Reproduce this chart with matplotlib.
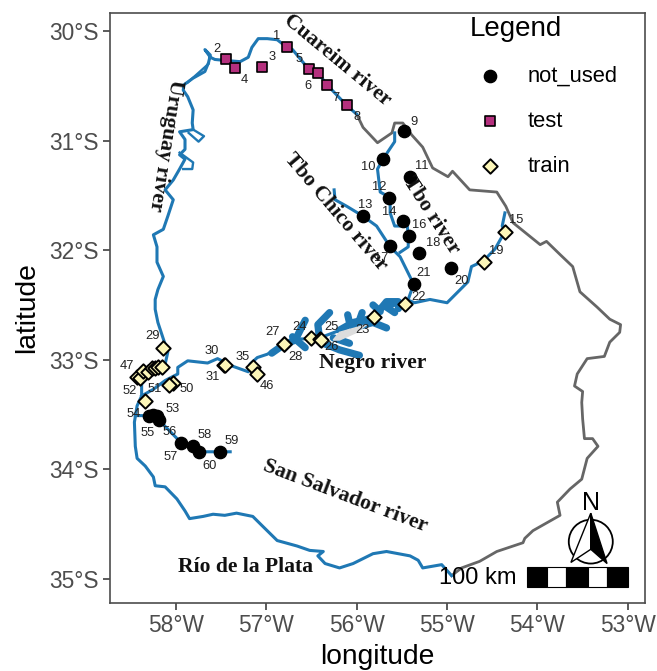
import matplotlib
matplotlib.use('Agg')
import matplotlib.pyplot as plt
from matplotlib.patches import Ellipse, Polygon, Rectangle

plt.rcParams['font.family'] = ['Liberation Sans', 'DejaVu Sans']

uruguay_lon = [-56.00, -56.11, -56.33, -56.43, -56.53, -56.71, -56.77, -56.88, -56.99, -57.09, -57.16, -57.20, -57.29,
               -57.44, -57.57, -57.62, -57.68, -57.62, -57.64, -57.68, -57.81, -57.91, -57.92, -57.87, -57.81, -57.82,
               -57.81, -57.96, -57.90, -57.90, -57.96, -57.90, -57.96, -58.03, -58.12, -58.03, -58.09, -58.14, -58.25,
               -58.21, -58.21, -58.14, -58.20, -58.23, -58.23, -58.20, -58.14, -58.09, -58.12, -58.21, -58.31, -58.38,
               -58.38, -58.43, -58.46, -58.45, -58.43, -58.34, -58.25, -58.23, -58.12, -57.99, -57.90, -57.85, -57.70,
               -57.59, -57.46, -57.33, -57.15, -57.04, -56.88, -56.66, -56.52, -56.37, -56.43, -56.35, -56.19, -56.04,
               -55.82, -55.67, -55.41, -55.32, -55.27, -55.06, -54.95]
uruguay_lat = [-30.76, -30.68, -30.49, -30.38, -30.35, -30.17, -30.15, -30.08, -30.07, -30.07, -30.15, -30.24, -30.28,
               -30.27, -30.26, -30.24, -30.17, -30.22, -30.29, -30.37, -30.43, -30.49, -30.54, -30.60, -30.72, -30.84,
               -30.90, -30.92, -30.99, -31.08, -31.13, -31.17, -31.26, -31.36, -31.45, -31.54, -31.69, -31.81, -31.86,
               -31.97, -32.11, -32.24, -32.36, -32.45, -32.54, -32.66, -32.81, -32.93, -33.04, -33.10, -33.16, -33.22,
               -33.33, -33.42, -33.57, -33.79, -33.90, -33.97, -34.07, -34.15, -34.16, -34.27, -34.38, -34.45, -34.43,
               -34.41, -34.42, -34.40, -34.43, -34.52, -34.65, -34.70, -34.74, -34.75, -34.79, -34.86, -34.90, -34.86,
               -34.77, -34.75, -34.79, -34.83, -34.90, -34.87, -34.97]

border_lon = [-54.95, -54.84, -54.64, -54.45, -54.16, -54.14, -54.05, -53.75, -53.78, -53.64, -53.51, -53.45, -53.33,
              -53.39, -53.48, -53.50, -53.51, -53.50, -53.59, -53.56, -53.45, -53.26, -53.20, -53.09, -53.08, -53.20,
              -53.34, -53.53, -53.61, -53.75, -53.90, -53.97, -54.27, -54.35, -54.45, -54.75, -54.94, -54.99, -55.16,
              -55.27, -55.39, -55.49, -55.58, -55.61, -55.77, -55.93, -56.00]
border_lat = [-34.97, -34.90, -34.84, -34.75, -34.67, -34.63, -34.56, -34.42, -34.30, -34.18, -34.09, -33.90, -33.79,
              -33.72, -33.72, -33.54, -33.39, -33.29, -33.24, -33.13, -32.99, -32.97, -32.84, -32.75, -32.68, -32.63,
              -32.52, -32.38, -32.15, -32.04, -31.92, -31.95, -31.75, -31.60, -31.47, -31.45, -31.28, -31.33, -31.25,
              -31.06, -30.95, -30.84, -30.84, -30.93, -31.02, -30.88, -30.76]

negro_lon = [-54.36, -54.39, -54.36, -54.47, -54.60, -54.73, -54.77, -55.00, -55.19, -55.36, -55.45, -55.47, -55.63,
             -55.78, -55.82, -56.15, -56.44, -56.66, -56.81, -56.99, -57.10, -57.18, -57.20, -57.37, -57.54, -57.65,
             -57.87, -57.98, -57.98, -58.12, -58.25, -58.38]
negro_lat = [-31.66, -31.78, -31.83, -31.99, -32.10, -32.15, -32.29, -32.48, -32.45, -32.48, -32.45, -32.49, -32.51,
             -32.56, -32.61, -32.72, -32.81, -32.81, -32.86, -32.95, -32.98, -33.04, -33.11, -33.06, -32.99, -33.03,
             -33.01, -33.07, -33.13, -33.19, -33.27, -33.33]

tacuarembo_lon = [-55.43, -55.37, -55.52, -55.63, -55.78, -55.93, -56.11, -56.24, -56.25]
tacuarembo_lat = [-32.45, -32.31, -32.06, -31.97, -31.78, -31.69, -31.60, -31.54, -31.45]

tbo_lon = [-55.52, -55.43, -55.43, -55.44, -55.58, -55.63, -55.63, -55.74, -55.77, -55.71, -55.58, -55.58]
tbo_lat = [-32.02, -31.97, -31.87, -31.78, -31.78, -31.66, -31.52, -31.47, -31.26, -31.17, -31.01, -30.93]

salvador_lon = [-58.45, -58.30, -58.19, -58.07, -57.94, -57.81, -57.75, -57.51, -57.40]
salvador_lat = [-33.51, -33.51, -33.55, -33.65, -33.76, -33.79, -33.84, -33.84, -33.84]

# islands / side channels of the Uruguay river
channels = [
    ([-57.87, -57.68, -57.64], [-30.47, -30.33, -30.30]),
    ([-57.81, -57.69, -57.75, -57.86], [-30.90, -30.96, -31.01, -30.93]),
    ([-57.96, -57.81, -57.82, -57.92], [-31.11, -31.20, -31.26, -31.26]),
]

# reservoir arms of the Negro river
lake_arms = [
    ([-56.94, -56.82, -56.68, -56.57], [-32.94, -32.87, -32.82, -32.64]),
    ([-56.71, -56.57], [-32.79, -32.89]),
    ([-56.41, -56.43, -56.30], [-32.82, -32.68, -32.57]),
    ([-56.37, -56.19, -55.97], [-32.85, -32.91, -32.96]),
    ([-56.26, -56.08], [-32.80, -32.85]),
    ([-56.19, -56.04, -55.82, -55.67, -55.54], [-32.73, -32.66, -32.62, -32.47, -32.47]),
    ([-56.04, -55.82, -55.67], [-32.71, -32.66, -32.71]),
    ([-56.08, -56.10], [-32.66, -32.59]),
    ([-55.97, -55.94], [-32.64, -32.57]),
    ([-55.74, -55.82], [-32.56, -32.50]),
    ([-55.67, -55.58], [-32.52, -32.57]),
    ([-55.54, -55.54], [-32.47, -32.53]),
]
lake_lon = [-56.19, -55.89, -56.00, -56.19, -56.26]
lake_lat = [-32.75, -32.68, -32.75, -32.82, -32.82]

# stations
test_no = [1, 2, 3, 4, 5, 6, 7, 8]
test_lon = [-56.77, -57.45, -57.05, -57.35, -56.53, -56.43, -56.33, -56.11]
test_lat = [-30.15, -30.26, -30.33, -30.34, -30.35, -30.38, -30.49, -30.68]

used_no = [9, 10, 11, 12, 13, 14, 16, 17, 18, 20, 21, 53, 54, 55, 56, 57, 58, 60, 59]
used_lon = [-55.48, -55.71, -55.41, -55.64, -55.93, -55.49, -55.42, -55.63, -55.31, -54.96, -55.37,
            -58.21, -58.30, -58.25, -58.19, -57.94, -57.81, -57.75, -57.51]
used_lat = [-30.91, -31.17, -31.33, -31.52, -31.69, -31.73, -31.87, -31.96, -32.03, -32.16, -32.31,
            -33.51, -33.51, -33.50, -33.55, -33.76, -33.79, -33.84, -33.84]

train_no = [15, 19, 22, 23, 24, 25, 26, 27, 28, 29, 30, 31, 35, 46, 47, 52, 36, 37, 38, 39, 40, 41, 49, 50, 51]
train_lon = [-54.36, -54.59, -55.47, -55.81, -56.51, -56.41, -56.40, -56.81, -56.80, -58.14, -57.47, -57.46, -57.15,
             -57.10, -58.43, -58.40, -58.37, -58.31, -58.27, -58.23, -58.20, -58.15, -58.03, -58.08, -58.34]
train_lat = [-31.83, -32.11, -32.49, -32.61, -32.80, -32.81, -32.82, -32.86, -32.86, -32.89, -33.05, -33.05, -33.07,
             -33.13, -33.16, -33.17, -33.10, -33.11, -33.08, -33.08, -33.07, -33.07, -33.21, -33.23, -33.38]

# label offsets in pixels from the station
label_dx = {1: -11, 2: -9, 3: 10, 4: 10, 5: -10, 6: -10, 7: 9, 8: 10, 9: 10, 10: -15, 11: 12, 12: -10, 13: 2, 14: -14,
            15: 11, 16: 10, 17: -9, 18: 14, 19: 12, 20: 11, 21: 10, 22: 14, 23: -11, 24: -11, 25: 12, 26: 11, 27: -11,
            28: 11, 29: -11, 30: -12, 31: -12, 35: -10, 46: 10, 47: -10, 52: -10, 50: 18, 51: 9, 53: 16, 54: -15,
            55: -6, 56: 11, 57: -11, 58: 12, 59: 11, 60: 11}
label_dy = {1: 11, 2: 10, 3: 10, 4: -12, 5: 10, 6: -13, 7: -13, 8: -12, 9: 9, 10: -8, 11: 11, 12: 11, 13: 11, 14: 9,
            15: 12, 16: 11, 17: -12, 18: 10, 19: 11, 20: -13, 21: 11, 22: 7, 23: -13, 24: 11, 25: 12, 26: -7, 27: 12,
            28: -13, 29: 12, 30: 14, 31: -12, 35: 10, 46: -12, 47: 11, 52: -13, 50: -4, 51: 12, 53: 7, 54: 2,
            55: -18, 56: -12, 57: -14, 58: 11, 59: 11, 60: -14}

river_names = ['Cuareim river', 'Uruguay river', 'Tbo Chico river', 'Tbo river', 'Negro river',
               'San Salvador river', 'Río de la Plata']
river_name_lon = [-56.21, -58.12, -56.23, -55.18, -55.82, -56.13, -57.23]
river_name_lat = [-30.27, -31.04, -31.65, -31.68, -33.03, -34.24, -34.89]
river_name_rot = [-39.5, -99, -49.6, -57, 0, -20.7, 0]

# scale bar and north arrow
scale_edges = [-54.12, -53.89, -53.68, -53.44, -53.23, -53.00]
scale_colors = ['black', 'white', 'black', 'white', 'black']

x_ticks = [-58, -57, -56, -55, -54, -53]
y_ticks = [-30, -31, -32, -33, -34, -35]

BLUE = '#1f78b4'
GREY = '#666666'
DARK = '#4d4d4d'

fig = plt.figure(figsize=(6.57, 6.71), dpi=100)
ax = fig.add_axes([110 / 657, 1 - 603 / 671, 535 / 657, 590 / 671])

ax.plot(border_lon, border_lat, color=GREY, lw=2.0, solid_joinstyle='round', zorder=2)
ax.fill(lake_lon, lake_lat, color='#dddddd', zorder=4)
for lon, lat in channels:
    ax.plot(lon, lat, color=BLUE, lw=1.7, zorder=3)
for lon, lat in lake_arms:
    ax.plot(lon, lat, color=BLUE, lw=5.2, solid_capstyle='round', zorder=3)
for lon, lat in [(uruguay_lon, uruguay_lat), (negro_lon, negro_lat), (tacuarembo_lon, tacuarembo_lat),
                 (tbo_lon, tbo_lat), (salvador_lon, salvador_lat)]:
    ax.plot(lon, lat, color=BLUE, lw=2.2, solid_joinstyle='round', zorder=3)

ax.scatter(used_lon, used_lat, s=78, marker='o', color='black', zorder=5, label='not_used')
ax.scatter(test_lon, test_lat, s=48, marker='s', facecolor='#b5307e', edgecolor='black', linewidth=1.2, zorder=5,
           label='test')
ax.scatter(train_lon, train_lat, s=54, marker='D', facecolor='#fcf6b8', edgecolor='black', linewidth=1.4, zorder=5,
           label='train')

for nos, lons, lats in [(test_no, test_lon, test_lat), (used_no, used_lon, used_lat), (train_no, train_lon, train_lat)]:
    for no, lon, lat in zip(nos, lons, lats):
        if no in label_dx:
            ax.annotate(str(no), (lon, lat), xytext=(label_dx[no], label_dy[no]), textcoords='offset pixels',
                        ha='center', va='center', fontsize=9.3, color='#222222', zorder=6)

for name, lon, lat, rot in zip(river_names, river_name_lon, river_name_lat, river_name_rot):
    ax.text(lon, lat, name, rotation=rot, rotation_mode='anchor', ha='center', va='center',
            family='Liberation Serif', fontweight='bold', fontsize=15.6, color='#111111', zorder=7)

# scale bar
for i in range(len(scale_colors)):
    ax.add_patch(Rectangle((scale_edges[i], -35.07), scale_edges[i + 1] - scale_edges[i], 0.18,
                           facecolor=scale_colors[i], edgecolor='black', linewidth=0.8, zorder=6))
ax.text(-54.23, -34.99, '100 km', ha='right', va='center', fontsize=17, color='black', zorder=7)

# north arrow
ax.add_patch(Ellipse((-53.41, -34.66), 0.487, 0.40, facecolor='none', edgecolor='black', linewidth=1.3, zorder=6))
ax.add_patch(Polygon([(-53.41, -34.40), (-53.63, -34.85), (-53.41, -34.73)], facecolor='white', edgecolor='black',
                     linewidth=1.0, zorder=6))
ax.add_patch(Polygon([(-53.41, -34.40), (-53.23, -34.86), (-53.41, -34.73)], facecolor='black', edgecolor='black',
                     linewidth=1.0, zorder=6))
ax.text(-53.41, -34.31, 'N', ha='center', va='center', fontsize=18, color='black', zorder=7)

ax.set_xlim(-58.73, -52.81)
ax.set_ylim(-35.22, -29.836)
ax.set_xticks(x_ticks)
ax.set_xticklabels(['%d°W' % abs(v) for v in x_ticks])
ax.set_yticks(y_ticks)
ax.set_yticklabels(['%d°S' % abs(v) for v in y_ticks])
ax.tick_params(axis='both', length=5, width=1.3, color=DARK, labelcolor=DARK, labelsize=16.4, pad=3)
for spine in ax.spines.values():
    spine.set_color(DARK)
    spine.set_linewidth(1.2)
ax.set_xlabel('longitude', fontsize=20.3, labelpad=5)
ax.set_ylabel('latitude', fontsize=20.3, labelpad=7)

leg = ax.legend(loc='upper left', bbox_to_anchor=(0.673, 0.995), frameon=False, title='Legend', fontsize=15.8,
                title_fontsize=20, labelspacing=1.09, handletextpad=0.84, handlelength=1.8, borderpad=0,
                borderaxespad=0, alignment='left')
leg.set_zorder(8)

fig.savefig('out.png', dpi=100)
